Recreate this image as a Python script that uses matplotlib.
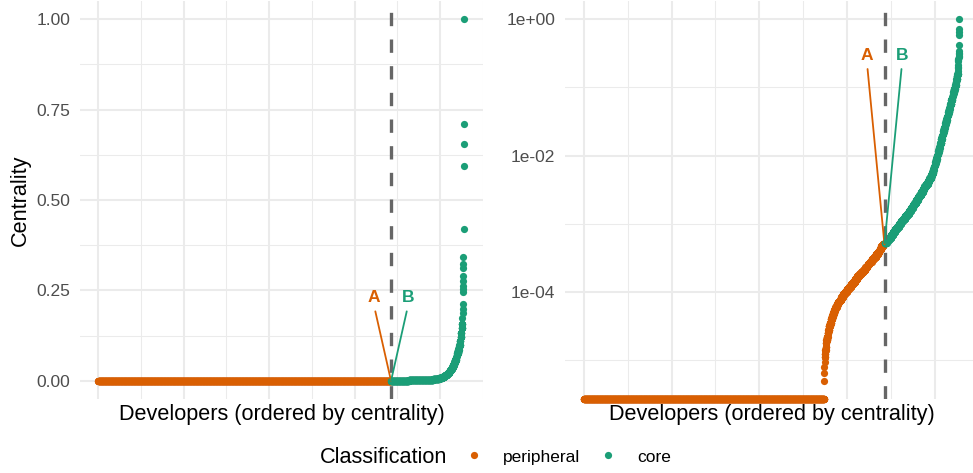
import numpy as np
import matplotlib
matplotlib.use("Agg")
import matplotlib.pyplot as plt
from matplotlib.lines import Line2D
from matplotlib.transforms import blended_transform_factory

plt.rcParams['font.family'] = ['Liberation Sans', 'DejaVu Sans']

# ---------------------------------------------------------------------------
# Data: developer centrality, grouped into (value, number of developers)
# ---------------------------------------------------------------------------
classes = ["peripheral", "core"]
class_colors = ["#D95F02", "#1B9E77"]

# peripheral developers without any centrality
n_zero_peripheral = 2738

# peripheral developers with non-zero centrality (ascending)
peripheral_centrality = [
    5.01e-6, 6.61e-6, 8.13e-6, 9.55e-6, 1.12e-5, 1.26e-5, 1.41e-5, 1.58e-5,
    1.78e-5, 2.00e-5, 2.24e-5, 2.51e-5, 2.82e-5, 3.16e-5, 3.55e-5, 3.98e-5,
    4.47e-5, 5.01e-5, 5.50e-5, 6.03e-5, 6.61e-5, 7.08e-5, 7.76e-5, 8.51e-5,
    9.33e-5, 1.00e-4, 1.10e-4, 1.20e-4, 1.32e-4, 1.41e-4, 1.55e-4, 1.70e-4,
    1.82e-4, 1.95e-4, 2.14e-4, 2.34e-4, 2.57e-4, 2.75e-4, 3.02e-4, 3.31e-4,
    3.63e-4, 3.89e-4, 4.27e-4, 4.68e-4, 5.01e-4,
]
peripheral_counts = [
    1, 1, 1, 1, 4, 4, 4, 4,
    4, 7, 7, 8, 7, 11, 12, 11,
    12, 14, 14, 14, 14, 19, 19, 19,
    20, 23, 24, 23, 24, 24, 24, 24,
    23, 24, 23, 24, 23, 24, 24, 24,
    23, 19, 19, 19, 19,
]

# core developers (ascending)
core_centrality = [
    5.25e-4, 5.75e-4, 6.31e-4, 6.92e-4, 7.59e-4, 8.32e-4, 9.12e-4, 1.00e-3,
    1.10e-3, 1.17e-3, 1.29e-3, 1.41e-3, 1.55e-3, 1.70e-3, 1.86e-3, 2.04e-3,
    2.24e-3, 2.45e-3, 2.69e-3, 2.95e-3, 3.24e-3, 3.55e-3, 3.89e-3, 4.27e-3,
    4.68e-3, 5.13e-3, 5.62e-3, 6.17e-3, 6.76e-3, 7.41e-3, 8.13e-3, 8.91e-3,
    9.77e-3, 1.07e-2, 1.17e-2, 1.29e-2, 1.41e-2, 1.55e-2, 1.74e-2, 1.91e-2,
    2.09e-2, 2.29e-2, 2.51e-2, 2.75e-2, 3.02e-2, 3.31e-2, 3.63e-2, 3.98e-2,
    4.37e-2, 4.79e-2, 5.25e-2, 5.75e-2, 6.46e-2, 7.08e-2, 7.76e-2, 8.51e-2,
    9.33e-2, 0.100, 0.110, 0.120, 0.132, 0.145, 0.158,
    0.175, 0.189, 0.199, 0.212, 0.245, 0.254, 0.263, 0.277, 0.291, 0.312,
    0.323, 0.342, 0.419, 0.593, 0.656, 0.711, 1.000,
]
core_counts = [
    24, 24, 23, 23, 23, 22, 23, 22,
    23, 23, 23, 23, 22, 23, 19, 19,
    19, 19, 19, 19, 19, 19, 19, 19,
    19, 10, 10, 9, 10, 9, 9, 8,
    8, 8, 8, 8, 8, 9, 8, 8,
    8, 8, 8, 8, 9, 8, 8, 8,
    8, 8, 8, 9, 8, 8, 9, 8,
    9, 6, 6, 6, 6, 6, 5,
    1, 1, 1, 1, 1, 1, 1, 1, 1, 1,
    1, 1, 1, 1, 1, 1, 1,
]

# ---------------------------------------------------------------------------
# Developers ordered by centrality
# ---------------------------------------------------------------------------
peripheral = np.concatenate([np.zeros(n_zero_peripheral),
                             np.repeat(peripheral_centrality, peripheral_counts)])
core = np.repeat(core_centrality, core_counts)
centrality = np.concatenate([peripheral, core])
n_dev = len(centrality)
rank = np.arange(1, n_dev + 1)
n_periph = len(peripheral)
groups = [(rank[:n_periph], peripheral), (rank[n_periph:], core)]
boundary = n_periph + 0.5
point_a = (rank[n_periph - 1], peripheral[-1])
point_b = (rank[n_periph], core[0])

# ---------------------------------------------------------------------------
# Figure layout
# ---------------------------------------------------------------------------
W, H = 973, 473
fig = plt.figure(figsize=(W / 100, H / 100), dpi=100)
ax_lin = fig.add_axes([80 / W, (H - 399) / H, 403 / W, 398 / H])
ax_log = fig.add_axes([565 / W, (H - 399) / H, 414 / W, 398 / H])

GRID = "#EBEBEB"
TICK_COLOR = "#4D4D4D"
PT_SIZE = 27
LAB_SIZE = 12.5
TITLE_SIZE = 15.6

xpad = 0.05 * (n_dev - 1)
for ax in (ax_lin, ax_log):
    for s in ax.spines.values():
        s.set_visible(False)
    ax.set_xlim(1 - xpad, n_dev + xpad)
    ax.set_xticks([0, 1000, 2000, 3000, 4000])
    ax.set_xticks([500, 1500, 2500, 3500, 4500], minor=True)
    ax.tick_params(which="both", length=0, labelbottom=False)
    ax.tick_params(axis="y", which="major", labelsize=LAB_SIZE,
                   labelcolor=TICK_COLOR, pad=7)
    ax.grid(which="major", color=GRID, lw=1.45)
    ax.grid(which="minor", color=GRID, lw=0.75)
    ax.set_axisbelow(True)
    ax.set_xlabel("Developers (ordered by centrality)", fontsize=TITLE_SIZE)
    ax.xaxis.set_label_coords(0.5, -0.013)
    ax.xaxis.label.set_va("top")

# ---- linear panel ----
lo, hi = centrality.min(), centrality.max()
ypad = 0.05 * (hi - lo)
ax_lin.set_ylim(lo - ypad, hi + ypad)
ax_lin.set_yticks([0, 0.25, 0.5, 0.75, 1.0])
ax_lin.set_yticklabels(["0.00", "0.25", "0.50", "0.75", "1.00"])
ax_lin.set_yticks([0.125, 0.375, 0.625, 0.875], minor=True)
ax_lin.set_ylabel("Centrality", fontsize=TITLE_SIZE)
ax_lin.yaxis.set_label_coords(-0.149, 0.5)
ax_lin.yaxis.label.set_va("center")

for (x, y), col in zip(groups, class_colors):
    ax_lin.scatter(x, y, s=PT_SIZE, color=col, linewidths=0, zorder=2)

# ---- log panel ----
ax_log.set_yscale("log")
nz = centrality[centrality > 0]
llo, lhi = np.log10(nz.min()), np.log10(nz.max())
lpad = 0.05 * (lhi - llo)
ax_log.set_ylim(10 ** (llo - lpad), 10 ** (lhi + lpad))
ax_log.set_yticks([1e-4, 1e-2, 1e0])
ax_log.set_yticklabels(["1e-04", "1e-02", "1e+00"])
ax_log.set_yticks([1e-5, 1e-3, 1e-1], minor=True)
ax_log.yaxis.set_minor_formatter(matplotlib.ticker.NullFormatter())

bottom_tr = blended_transform_factory(ax_log.transData, ax_log.transAxes)
for (x, y), col in zip(groups, class_colors):
    pos = y > 0
    ax_log.scatter(x[pos], y[pos], s=PT_SIZE, color=col, linewidths=0, zorder=2)
    if (~pos).any():
        ax_log.scatter(x[~pos], np.zeros((~pos).sum()), s=PT_SIZE, color=col,
                       linewidths=0, zorder=2, transform=bottom_tr, clip_on=False)

# ---- class boundary and labels ----
label_offset = 200
for ax, label_y in ((ax_lin, 0.23), (ax_log, 0.295)):
    ax.axvline(boundary, color="#666666", lw=2.4, ls=(0, (4, 4)), zorder=3)
    for txt, pt, dx, col in (("A", point_a, -label_offset, class_colors[0]),
                             ("B", point_b, label_offset, class_colors[1])):
        ax.annotate(txt, xy=pt, xytext=(boundary + dx, label_y),
                    textcoords="data", ha="center", va="center",
                    fontsize=LAB_SIZE, fontweight="bold", color=col,
                    arrowprops=dict(arrowstyle="-", color=col, lw=1.3,
                                    shrinkA=2.5, shrinkB=0, relpos=(0.5, 0.0)),
                    zorder=4)

# ---- legend ----
fig.text(320 / W, 1 - 457 / H, "Classification", fontsize=TITLE_SIZE,
         ha="left", va="center")
handles = [Line2D([], [], marker="o", ls="", color=c, markersize=5.2,
                  markeredgewidth=0) for c in class_colors]
fig.legend(handles, classes, loc="center left",
           bbox_to_anchor=(465.3 / W, 1 - 457 / H), ncol=2, frameon=False,
           fontsize=LAB_SIZE, handlelength=1.0, handletextpad=1.15,
           columnspacing=1.13, borderpad=0, borderaxespad=0, numpoints=1)

fig.savefig("out.png", dpi=100)
